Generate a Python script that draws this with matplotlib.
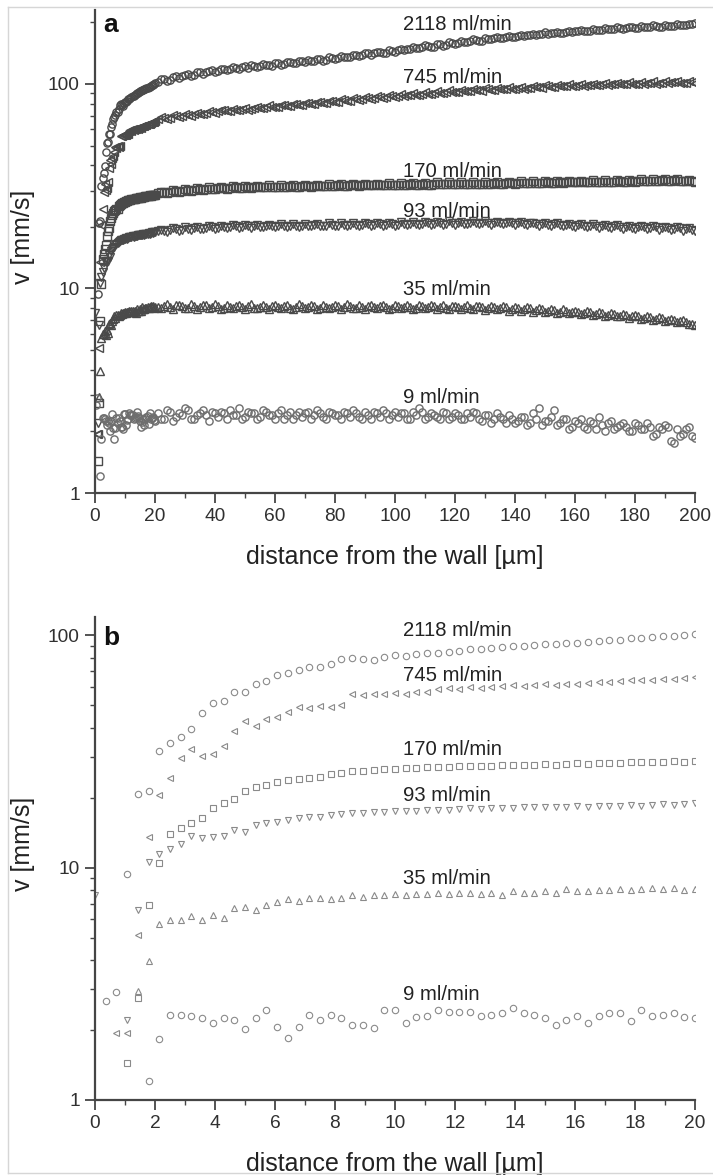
import numpy as np
import matplotlib
matplotlib.use('Agg')
import matplotlib.pyplot as plt
from matplotlib.ticker import LogLocator, NullFormatter, FixedLocator, FixedFormatter, MultipleLocator
from matplotlib.lines import Line2D

plt.rcParams['font.family'] = ['Liberation Sans', 'DejaVu Sans']

nan = np.nan

# ---------------- data ----------------
flow_labels = ['2118 ml/min', '745 ml/min', '170 ml/min', '93 ml/min', '35 ml/min', '9 ml/min']
markers = ['o', '<', 's', 'v', '^', 'o']

# near-wall profile (panel b, 0..20 um, regular measurement grid)
dist_b = np.linspace(0, 20, 57)
v2118_b = [nan, nan, nan, 9.4, 20.8, 21.3, 31.7, 34.5, 36.6, 39.6, 46.4, 51.3, 52.1, 57, 57, 61.5,
           63.5, 67.3, 69, 70.7, 73.1, 73.1, 75.5, 79.3, 80, 79, 78, 81, 82, 81.5, 83, 84, 84, 85,
           86, 87, 87, 88, 89, 90, 90, 91, 92, 92, 93, 93, 94, 95, 96, 96, 97, 97, 98, 99, 99, 100, 101]
v745_b = [nan, nan, 1.94, 1.94, 5.14, 13.5, 20.5, 24.4, 29.7, 32.5, 30.4, 31.0, 33.3, 38.7, 42.7, 40.7,
          43.7, 44.6, 46.7, 49.3, 48.8, 49.6, 49.3, 50, 55.7, 55.5, 56, 56, 56.5, 56, 57, 57, 59, 59.5,
          59, 60, 59.5, 60, 60.5, 61, 60.5, 61, 61.5, 61, 62, 62, 62.5, 63, 63, 63.5, 64, 64, 64.5, 65,
          65, 65.5, 66]
v170_b = [nan, nan, nan, 1.44, 2.75, 6.9, 10.5, 14.0, 14.8, 15.6, 16.4, 18.1, 19.0, 19.8, 21.3, 22.2,
          22.8, 23.3, 23.8, 24.2, 24.4, 24.6, 25.2, 25.6, 26.0, 26.2, 26.3, 26.5, 26.6, 26.8, 26.9,
          27.0, 27.0, 27.2, 27.3, 27.4, 27.5, 27.4, 27.6, 27.7, 27.6, 27.8, 27.9, 27.8, 28.0, 28.1,
          28.0, 28.2, 28.3, 28.2, 28.4, 28.5, 28.4, 28.6, 28.7, 28.6, 28.8]
v93_b = [7.6, nan, nan, 2.21, 6.6, 10.6, 11.4, 12.0, 12.6, 13.7, 13.4, 13.6, 13.7, 14.5, 14.3, 15.2,
         15.6, 15.7, 16.0, 16.3, 16.5, 16.6, 16.8, 17.0, 17.2, 17.2, 17.3, 17.4, 17.5, 17.6, 17.5,
         17.7, 17.8, 17.8, 17.9, 18.0, 17.9, 18.0, 18.1, 18.1, 18.2, 18.2, 18.3, 18.2, 18.3, 18.4,
         18.3, 18.5, 18.4, 18.5, 18.6, 18.5, 18.7, 18.8, 18.6, 18.8, 18.9]
v35_b = [nan, nan, nan, nan, 2.95, 3.97, 5.74, 5.97, 5.97, 6.17, 5.95, 6.25, 6.05, 6.7, 6.8, 6.6,
         6.9, 7.1, 7.3, 7.2, 7.4, 7.4, 7.3, 7.4, 7.6, 7.5, 7.6, 7.6, 7.7, 7.6, 7.7, 7.7, 7.8, 7.7,
         7.8, 7.8, 7.7, 7.8, 7.6, 7.9, 7.8, 7.8, 7.9, 7.8, 8.1, 7.9, 7.9, 8.0, 8.0, 8.1, 8.0, 8.1,
         8.2, 8.1, 8.2, 8.0, 8.1]
v9_b = [nan, 2.68, 2.93, nan, nan, 1.21, 1.83, 2.32, 2.32, 2.30, 2.26, 2.14, 2.26, 2.21, 2.02, 2.26,
        2.43, 2.07, 1.84, 2.07, 2.32, 2.21, 2.32, 2.25, 2.10, 2.10, 2.05, 2.43, 2.43, 2.15, 2.28,
        2.31, 2.45, 2.40, 2.40, 2.40, 2.30, 2.32, 2.36, 2.48, 2.38, 2.32, 2.25, 2.10, 2.22, 2.30,
        2.15, 2.30, 2.36, 2.38, 2.18, 2.45, 2.30, 2.32, 2.36, 2.28, 2.25]

# far-field profile (panel a), odd positions 21..199 um
dist_a_odd = np.arange(21, 200, 2)
v2118_a_odd = [102, 106, 105, 109, 109, 112, 111, 114, 114, 117,
               116, 119, 118, 120, 121, 120, 123, 122, 124, 123,
               126, 125, 128, 127, 129, 131, 129, 132, 131, 134,
               134, 136, 136, 139, 138, 141, 141, 143, 142, 145,
               147, 146, 149, 150, 151, 153, 152, 156, 155, 158,
               159, 161, 162, 164, 163, 166, 167, 168, 170, 170,
               172, 171, 174, 174, 176, 175, 178, 177, 179, 180,
               181, 182, 181, 184, 183, 186, 185, 187, 187, 189,
               188, 190, 190, 192, 191, 193, 192, 195, 194, 196]
v745_a_odd = [67.5, 68.5, 68, 69.5, 70, 70.5, 71.5, 71, 72.5, 73,
              73.5, 74.5, 74, 75, 75.5, 75, 76.5, 76, 77, 77.5,
              77.5, 78.5, 78, 79.5, 79, 80.5, 80, 81.5, 81, 82.5,
              82, 83.5, 83, 84.5, 84, 85.5, 85, 86.5, 86, 87,
              87.5, 87, 88.5, 88, 89.5, 89, 90.5, 90, 91, 91.5,
              91, 92.5, 92, 93, 92.5, 94, 93.5, 94.5, 94, 95,
              95.5, 95, 96, 96.5, 96, 97.5, 97, 97.5, 98, 97.5,
              98.5, 98, 99, 98.5, 99.5, 99, 100, 99.5, 100.5, 100,
              100.5, 100, 101, 100.5, 101.5, 101, 102, 101.5, 101, 102]
v170_a_odd = [29.2, 29.5, 29.6, 29.9, 30.0, 30.2, 30.4, 30.5, 30.7, 30.8,
              31.0, 30.9, 31.1, 31.2, 31.1, 31.3, 31.2, 31.4, 31.3, 31.5,
              31.4, 31.5, 31.6, 31.5, 31.7, 31.6, 31.7, 31.8, 31.7, 31.8,
              31.9, 31.8, 31.9, 32.0, 31.9, 32.0, 32.1, 32.0, 32.1, 32.2,
              32.1, 32.2, 32.3, 32.2, 32.3, 32.2, 32.4, 32.3, 32.4, 32.5,
              32.4, 32.5, 32.6, 32.5, 32.6, 32.5, 32.7, 32.6, 32.7, 32.8,
              32.7, 32.8, 32.9, 32.8, 32.9, 33.0, 32.9, 33.0, 33.1, 33.0,
              33.1, 33.0, 33.2, 33.1, 33.2, 33.3, 33.2, 33.4, 33.3, 33.5,
              33.6, 33.4, 33.7, 33.5, 33.8, 33.6, 33.9, 33.7, 33.6, 33.4]
v93_a_odd = [19.0, 19.2, 19.3, 19.5, 19.4, 19.6, 19.7, 19.6, 19.8, 19.9,
             19.8, 20.0, 19.9, 20.1, 20.0, 20.1, 20.2, 20.0, 20.2, 20.1,
             20.2, 20.1, 20.3, 20.2, 20.3, 20.2, 20.4, 20.3, 20.2, 20.4,
             20.3, 20.5, 20.4, 20.5, 20.4, 20.6, 20.5, 20.6, 20.4, 20.6,
             20.5, 20.7, 20.6, 20.7, 20.6, 20.8, 20.7, 20.8, 20.7, 20.9,
             20.8, 20.7, 20.9, 20.8, 21.0, 20.9, 20.8, 21.0, 20.9, 20.8,
             20.9, 20.7, 20.8, 20.6, 20.7, 20.5, 20.6, 20.4, 20.5, 20.3,
             20.4, 20.2, 20.3, 20.1, 20.2, 20.0, 20.1, 19.9, 20.0, 19.8,
             19.9, 20.0, 19.8, 19.9, 19.7, 19.8, 19.6, 19.7, 19.5, 19.4]
v35_a_odd = [8.15, 8.25, 8.1, 8.3, 8.2, 8.05, 8.25, 8.15, 8.3, 8.1,
             8.2, 8.05, 8.15, 8.25, 8.1, 8.2, 8.0, 8.15, 8.1, 8.25,
             8.1, 8.2, 8.05, 8.15, 8.25, 8.1, 8.2, 8.0, 8.15, 8.1,
             8.2, 8.1, 8.25, 8.05, 8.15, 8.2, 8.1, 8.25, 8.15, 8.05,
             8.2, 8.1, 8.15, 8.0, 8.2, 8.1, 8.25, 8.15, 8.05, 8.2,
             8.1, 8.15, 8.0, 8.2, 8.1, 8.05, 8.15, 8.0, 8.1, 7.95,
             8.05, 7.9, 8.0, 7.85, 7.95, 7.8, 7.85, 7.7, 7.8, 7.65,
             7.7, 7.6, 7.65, 7.5, 7.55, 7.45, 7.5, 7.35, 7.4, 7.3,
             7.35, 7.2, 7.25, 7.1, 7.15, 7.0, 7.05, 6.9, 6.85, 6.7]
v9_a_odd = [2.45, 2.3, 2.5, 2.35, 2.4, 2.55, 2.3, 2.45, 2.4, 2.5,
            2.35, 2.45, 2.55, 2.4, 2.3, 2.5, 2.45, 2.35, 2.5, 2.4,
            2.45, 2.3, 2.5, 2.4, 2.35, 2.5, 2.4, 2.45, 2.3, 2.45,
            2.4, 2.5, 2.35, 2.45, 2.3, 2.4, 2.5, 2.35, 2.45, 2.4,
            2.35, 2.45, 2.3, 2.4, 2.5, 2.35, 2.4, 2.3, 2.45, 2.35,
            2.4, 2.3, 2.35, 2.45, 2.25, 2.4, 2.3, 2.35, 2.2, 2.3,
            2.25, 2.35, 2.2, 2.3, 2.15, 2.25, 2.55, 2.2, 2.3, 2.1,
            2.2, 2.1, 2.25, 2.05, 2.15, 2.2, 2.05, 2.15, 2.1, 2.0,
            2.15, 2.05, 2.1, 1.95, 2.05, 2.1, 1.75, 1.9, 2.05, 1.9]

# far-field profile (panel a), even positions 22..200 um
dist_a_even = np.arange(22, 201, 2)
v2118_a_even = [106, 103, 108, 107, 111, 110, 114, 112, 116, 115,
                118, 117, 121, 119, 122, 124, 121, 125, 124, 127,
                124, 128, 126, 130, 128, 130, 133, 130, 135, 133,
                137, 135, 139, 137, 141, 139, 144, 141, 146, 144,
                149, 148, 152, 150, 155, 151, 157, 154, 160, 157,
                162, 160, 165, 162, 167, 165, 170, 167, 172, 169,
                174, 173, 176, 175, 179, 177, 180, 178, 182, 181,
                184, 181, 186, 183, 188, 185, 189, 186, 191, 188,
                192, 189, 194, 191, 195, 193, 197, 194, 197, 199]
v745_a_even = [69, 67.5, 70.5, 69, 71.5, 70, 72.5, 71.5, 74, 72.5,
               75, 73.5, 75.5, 74.5, 76.5, 75.5, 77.5, 76, 78.5, 77,
               79, 78, 80, 78.5, 81, 79.5, 82, 80.5, 83, 81.5,
               84, 82.5, 85, 83.5, 86, 84.5, 87, 85.5, 88, 86.5,
               89, 88, 90, 88.5, 91, 89.5, 92, 90.5, 93, 91,
               93.5, 92, 94.5, 93, 95.5, 93.5, 96, 94, 96.5, 95,
               97, 95.5, 97.5, 96.5, 98.5, 97, 99, 97.5, 99.5, 98,
               100, 98.5, 100.5, 99, 101, 99.5, 101.5, 100, 102, 100.5,
               102.5, 101, 103, 101.5, 103, 102, 103.5, 101.5, 103, 101.5]
v170_a_even = [29.8, 29.4, 30.3, 29.8, 30.6, 30.1, 31.0, 30.4, 31.2, 30.6,
               31.5, 30.8, 31.6, 31.0, 31.7, 31.1, 31.8, 31.2, 31.9, 31.3,
               32.0, 31.3, 32.1, 31.4, 32.2, 31.5, 32.2, 31.6, 32.3, 31.7,
               32.4, 31.7, 32.5, 31.8, 32.5, 31.9, 32.6, 32.0, 32.7, 32.0,
               32.8, 32.1, 32.8, 32.1, 32.9, 32.2, 33.0, 32.3, 33.0, 32.3,
               33.1, 32.4, 33.2, 32.4, 33.2, 32.5, 33.3, 32.6, 33.3, 32.6,
               33.4, 32.7, 33.5, 32.8, 33.5, 32.8, 33.6, 32.9, 33.7, 33.0,
               33.7, 33.0, 33.8, 33.1, 33.9, 33.2, 34.0, 33.2, 34.1, 33.3,
               34.2, 33.4, 34.3, 33.5, 34.3, 33.5, 34.2, 33.4, 34.0, 33.3]
v93_a_even = [19.4, 18.9, 19.7, 19.2, 19.9, 19.3, 20.0, 19.5, 20.2, 19.6,
              20.3, 19.7, 20.4, 19.8, 20.4, 19.8, 20.5, 19.9, 20.5, 19.9,
              20.6, 20.0, 20.6, 20.0, 20.7, 20.1, 20.7, 20.1, 20.8, 20.1,
              20.8, 20.2, 20.9, 20.2, 20.9, 20.3, 21.0, 20.3, 21.0, 20.3,
              21.1, 20.4, 21.1, 20.4, 21.2, 20.5, 21.2, 20.5, 21.3, 20.5,
              21.2, 20.6, 21.3, 20.6, 21.3, 20.5, 21.2, 20.6, 21.2, 20.5,
              21.1, 20.4, 21.0, 20.3, 20.9, 20.2, 20.8, 20.1, 20.7, 20.0,
              20.7, 19.9, 20.6, 19.8, 20.5, 19.7, 20.4, 19.6, 20.3, 19.5,
              20.2, 19.5, 20.1, 19.4, 20.0, 19.3, 19.9, 19.2, 19.8, 19.1]
v35_a_even = [8.0, 8.4, 7.95, 8.35, 8.05, 8.4, 7.95, 8.3, 8.0, 8.4,
              7.95, 8.35, 8.0, 8.3, 7.9, 8.4, 8.0, 8.35, 7.95, 8.3,
              8.0, 8.35, 7.9, 8.4, 8.0, 8.3, 7.95, 8.35, 8.0, 8.3,
              7.95, 8.4, 8.0, 8.3, 7.9, 8.35, 8.0, 8.3, 7.95, 8.35,
              8.0, 8.3, 7.9, 8.35, 8.0, 8.3, 7.95, 8.3, 7.9, 8.25,
              7.95, 8.3, 7.9, 8.25, 7.85, 8.25, 7.9, 8.2, 7.8, 8.15,
              7.75, 8.1, 7.7, 8.0, 7.65, 7.95, 7.6, 7.9, 7.55, 7.8,
              7.5, 7.75, 7.4, 7.7, 7.35, 7.6, 7.3, 7.5, 7.2, 7.45,
              7.1, 7.35, 7.0, 7.25, 6.95, 7.1, 6.85, 7.0, 6.7, 6.6]
v9_a_even = [2.3, 2.55, 2.25, 2.45, 2.6, 2.3, 2.4, 2.55, 2.25, 2.45,
             2.5, 2.3, 2.4, 2.6, 2.35, 2.45, 2.3, 2.55, 2.4, 2.3,
             2.55, 2.4, 2.3, 2.5, 2.45, 2.3, 2.55, 2.35, 2.5, 2.4,
             2.3, 2.45, 2.55, 2.35, 2.5, 2.3, 2.45, 2.55, 2.3, 2.5,
             2.45, 2.3, 2.5, 2.6, 2.3, 2.45, 2.35, 2.5, 2.3, 2.45,
             2.3, 2.45, 2.5, 2.3, 2.4, 2.2, 2.45, 2.3, 2.4, 2.2,
             2.35, 2.15, 2.45, 2.6, 2.25, 2.35, 2.15, 2.3, 2.05, 2.25,
             2.3, 2.05, 2.2, 2.35, 2.0, 2.25, 2.1, 2.2, 2.0, 2.2,
             2.05, 2.2, 1.9, 2.1, 2.15, 1.8, 2.05, 1.95, 2.1, 1.85]

series_b = [v2118_b, v745_b, v170_b, v93_b, v35_b, v9_b]
series_a_odd = [v2118_a_odd, v745_a_odd, v170_a_odd, v93_a_odd, v35_a_odd, v9_a_odd]
series_a_even = [v2118_a_even, v745_a_even, v170_a_even, v93_a_even, v35_a_even, v9_a_even]

# label anchor positions (x, baseline y)
label_x_a = 102.7
label_y_a = [183.6, 100.7, 35.2, 22.3, 9.29, 2.75]
label_x_b = 10.28
label_y_b = [99.3, 63.5, 30.7, 19.3, 8.53, 2.70]

# ---------------- figure ----------------
W, H = 713, 1175
fig = plt.figure(figsize=(W / 100, H / 100), dpi=100)
fig.patch.set_facecolor('white')

frame_c = '#d6d6d6'
fig.add_artist(Line2D([8 / W, 8 / W], [1 - 7 / H, 1 - 1173 / H], transform=fig.transFigure, color=frame_c, lw=1.0))
fig.add_artist(Line2D([8 / W, 1.0], [1 - 7 / H, 1 - 7 / H], transform=fig.transFigure, color=frame_c, lw=1.0))
fig.add_artist(Line2D([8 / W, 1.0], [1 - 1173 / H, 1 - 1173 / H], transform=fig.transFigure, color=frame_c, lw=1.0))

ax_a = fig.add_axes([95 / W, 1 - 493 / H, 600 / W, 483 / H])
ax_b = fig.add_axes([95 / W, 1 - 1100 / H, 600 / W, 483 / H])

axis_c = '#454545'
text_c = '#222222'


def style(ax, xmax, xmaj, xmin, ytop):
    ax.set_yscale('log')
    ax.set_xlim(0, xmax)
    ax.set_ylim(1, ytop)
    for s in ['top', 'right']:
        ax.spines[s].set_visible(False)
    for s in ['left', 'bottom']:
        ax.spines[s].set_linewidth(1.6)
        ax.spines[s].set_color(axis_c)
    ax.yaxis.set_major_locator(FixedLocator([1, 10, 100]))
    ax.yaxis.set_major_formatter(FixedFormatter(['1', '10', '100']))
    ax.yaxis.set_minor_locator(LogLocator(base=10, subs=np.arange(2, 10)))
    ax.yaxis.set_minor_formatter(NullFormatter())
    ax.xaxis.set_major_locator(MultipleLocator(xmaj))
    ax.xaxis.set_minor_locator(MultipleLocator(xmin))
    ax.tick_params(which='major', direction='out', length=7, width=1.3, color=axis_c,
                   labelsize=13.8, labelcolor='#303030', pad=4)
    ax.tick_params(which='minor', direction='out', length=3.5, width=1.0, color=axis_c)
    ax.set_xlabel('distance from the wall [µm]', fontsize=18, color=text_c)
    ax.xaxis.set_label_coords(0.5, -(64 / 483))
    ax.xaxis.label.set_va('center')
    ax.set_ylabel('v [mm/s]', fontsize=18, color=text_c)
    ax.yaxis.set_label_coords(-(72 / 600), 0.53)
    ax.yaxis.label.set_va('center')
    ax.set_facecolor('none')


style(ax_a, 200, 20, 10, 230)
style(ax_b, 20, 2, 1, 120)

# panel a : dense profiles over 0..200 um
dist_a = np.concatenate([dist_b, dist_a_odd, dist_a_even])
for i in range(len(flow_labels)):
    vals = np.concatenate([np.array(series_b[i], dtype=float),
                           np.array(series_a_odd[i], dtype=float),
                           np.array(series_a_even[i], dtype=float)])
    col = '#4a4a4a' if i < 5 else '#6e6e6e'
    ax_a.plot(dist_a, vals, linestyle='none', marker=markers[i], markersize=5.2,
              markerfacecolor='none', markeredgecolor=col, markeredgewidth=1.0)
    ax_a.text(label_x_a, label_y_a[i], flow_labels[i], fontsize=14.6, color=text_c,
              ha='left', va='baseline')

# panel b : near-wall detail
for i, vb in enumerate(series_b):
    ax_b.plot(dist_b, vb, linestyle='none', marker=markers[i], markersize=4.6,
              markerfacecolor='none', markeredgecolor='#8a8a8a', markeredgewidth=0.8)
    ax_b.text(label_x_b, label_y_b[i], flow_labels[i], fontsize=14.6, color=text_c,
              ha='left', va='baseline')

ax_a.text(8 / 600, (493 - 32) / 483, 'a', transform=ax_a.transAxes, fontsize=19,
          fontweight='bold', color='#111111', ha='left', va='baseline')
ax_b.text(8 / 600, (1100 - 645) / 483, 'b', transform=ax_b.transAxes, fontsize=19,
          fontweight='bold', color='#111111', ha='left', va='baseline')

fig.savefig('out.png', dpi=100, facecolor='white')
